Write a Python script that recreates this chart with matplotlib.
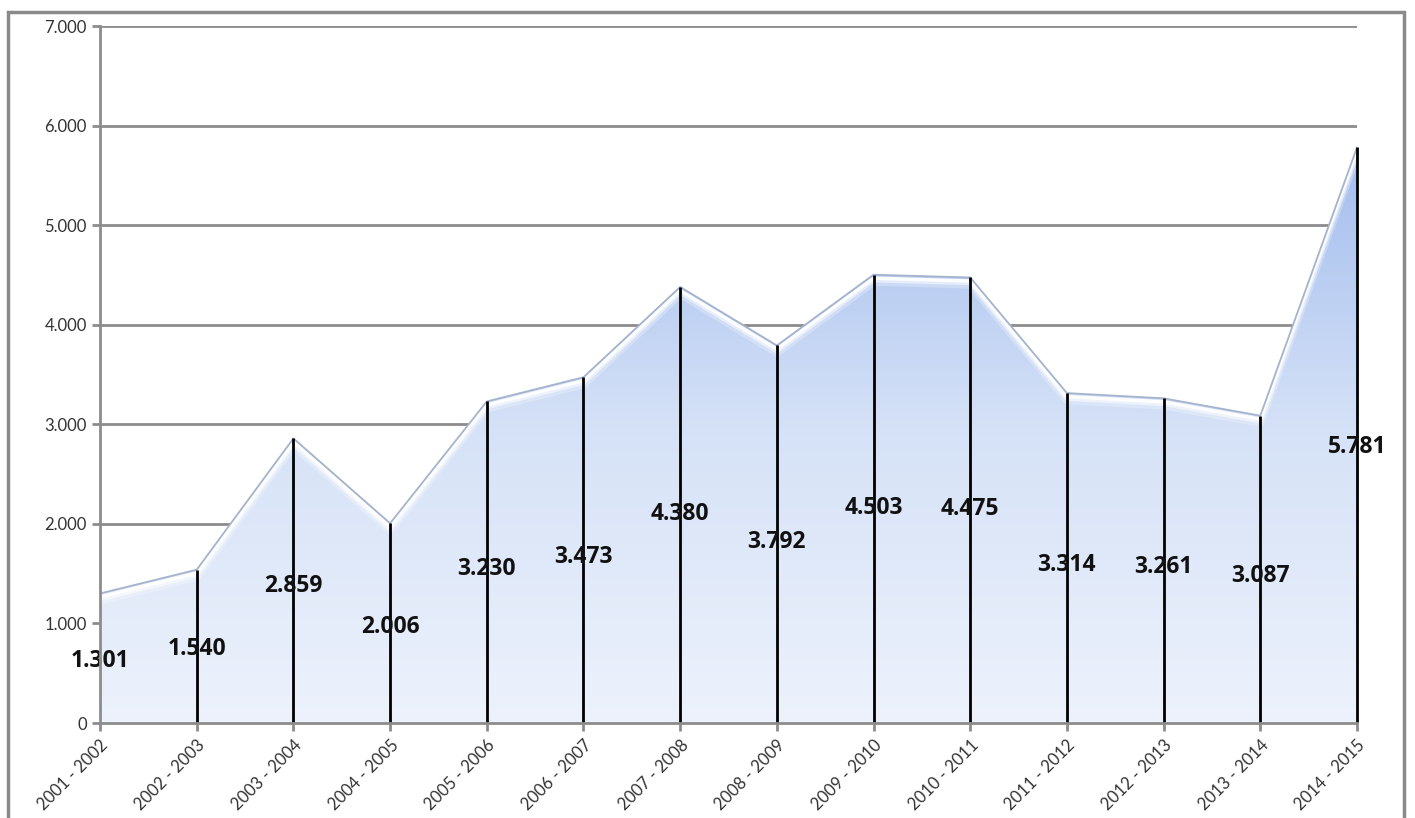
import numpy as np
import matplotlib.pyplot as plt
from matplotlib.colors import LinearSegmentedColormap
from matplotlib.patches import Polygon, Rectangle
from matplotlib.ticker import FuncFormatter

# data
seasons = ['2001 - 2002', '2002 - 2003', '2003 - 2004', '2004 - 2005', '2005 - 2006',
           '2006 - 2007', '2007 - 2008', '2008 - 2009', '2009 - 2010', '2010 - 2011',
           '2011 - 2012', '2012 - 2013', '2013 - 2014', '2014 - 2015']
values = [1301, 1540, 2859, 2006, 3230, 3473, 4380, 3792, 4503, 4475, 3314, 3261, 3087, 5781]
y_ticks = [0, 1000, 2000, 3000, 4000, 5000, 6000, 7000]

plt.rcParams['font.family'] = ['Lato', 'DejaVu Sans']

fig = plt.figure(figsize=(14.15, 8.18), dpi=100)
ax = fig.add_axes([0.0707, 0.1161, 0.8883, 0.852])

x = np.arange(len(values))

# gridlines
for t in y_ticks[1:]:
    ax.axhline(t, color='#8c8c8c', lw=2, zorder=1)

# area with vertical gradient clipped to the polygon
verts = [(x[0], 0)] + list(zip(x, values)) + [(x[-1], 0)]
poly = Polygon(verts, closed=True, facecolor='none', edgecolor='none')
ax.add_patch(poly)
cmap = LinearSegmentedColormap.from_list('area', ['#edf2fc', '#d6e2f7', '#a3bdee'])
grad = np.linspace(0, 1, 256).reshape(-1, 1)
img = ax.imshow(grad, cmap=cmap, origin='lower', aspect='auto',
                extent=[x[0], x[-1], 0, max(values)], zorder=2)
img.set_clip_path(poly)

# edge + soft white glow just under it
vals = np.array(values)
for off, lw, a in [(70, 6, 0.25), (50, 4, 0.5), (35, 2.5, 0.9)]:
    line, = ax.plot(x, vals - off, color='white', lw=lw, alpha=a, zorder=3)
    line.set_clip_path(poly)
ax.plot(x, values, color='#a5b3cc', lw=1.3, zorder=3)

# vertical lines
ax.vlines(x[1:], 0, values[1:], color='black', lw=2, zorder=4, clip_on=False)

# data labels
for xi, v in zip(x, values):
    ax.text(xi, v * 0.48, f'{v:,}'.replace(',', '.'), ha='center', va='center',
            fontsize=16.5, fontweight='bold', color='#111111', zorder=5,
            family=['Open Sans', 'DejaVu Sans'])

ax.set_xlim(0, len(values) - 1)
ax.set_ylim(0, 7000)
ax.set_yticks(y_ticks)
ax.yaxis.set_major_formatter(FuncFormatter(lambda v, p: f'{int(v):,}'.replace(',', '.')))
ax.set_xticks(x)
ax.set_xticklabels(seasons, rotation=45, ha='right', rotation_mode='anchor')

for s in ['top', 'right']:
    ax.spines[s].set_visible(False)
for s in ['left', 'bottom']:
    ax.spines[s].set_color('#8c8c8c')
    ax.spines[s].set_linewidth(2)
    ax.spines[s].set_zorder(6)
ax.tick_params(axis='both', colors='#8c8c8c', width=2, length=6, labelsize=12, labelcolor='#333333')
ax.tick_params(axis='x', pad=4)

# outer frame
fig.patches.append(Rectangle((0.006, -0.05), 0.986, 1.035, transform=fig.transFigure,
                             fill=False, edgecolor='#8a8a8a', lw=2.5))

fig.savefig('out.png', dpi=100)
